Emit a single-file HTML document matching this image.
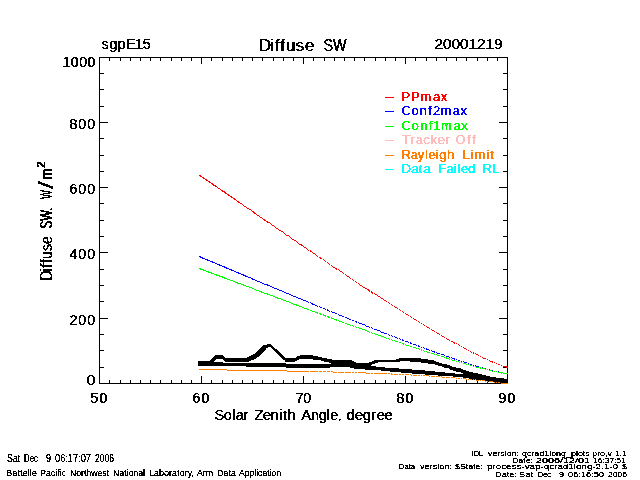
<!DOCTYPE html>
<html><head><meta charset="utf-8"><style>
html,body{margin:0;padding:0;background:#fff;width:640px;height:480px;overflow:hidden}
svg{display:block}
</style></head><body>
<svg width="640" height="480" viewBox="0 0 640 480">
<defs><filter id="crisp" x="-5%" y="-20%" width="110%" height="140%" color-interpolation-filters="sRGB"><feComponentTransfer><feFuncA type="discrete" tableValues="0 0 1"/></feComponentTransfer></filter><filter id="crisp2" x="-5%" y="-20%" width="110%" height="140%" color-interpolation-filters="sRGB"><feComponentTransfer><feFuncA type="discrete" tableValues="0 1 1"/></feComponentTransfer></filter></defs>
<rect width="640" height="480" fill="#fff"/>
<rect x="99" y="57" width="409" height="1" fill="#000"/>
<rect x="99" y="383" width="409" height="1" fill="#000"/>
<rect x="99" y="57" width="1" height="327" fill="#000"/>
<rect x="507" y="57" width="1" height="327" fill="#000"/>
<rect x="99" y="57" width="1" height="7" fill="#000"/>
<rect x="99" y="376" width="1" height="8" fill="#000"/>
<rect x="109" y="57" width="1" height="4" fill="#000"/>
<rect x="109" y="380" width="1" height="4" fill="#000"/>
<rect x="120" y="57" width="1" height="4" fill="#000"/>
<rect x="120" y="380" width="1" height="4" fill="#000"/>
<rect x="130" y="57" width="1" height="4" fill="#000"/>
<rect x="130" y="380" width="1" height="4" fill="#000"/>
<rect x="140" y="57" width="1" height="4" fill="#000"/>
<rect x="140" y="380" width="1" height="4" fill="#000"/>
<rect x="150" y="57" width="1" height="4" fill="#000"/>
<rect x="150" y="380" width="1" height="4" fill="#000"/>
<rect x="160" y="57" width="1" height="4" fill="#000"/>
<rect x="160" y="380" width="1" height="4" fill="#000"/>
<rect x="171" y="57" width="1" height="4" fill="#000"/>
<rect x="171" y="380" width="1" height="4" fill="#000"/>
<rect x="181" y="57" width="1" height="4" fill="#000"/>
<rect x="181" y="380" width="1" height="4" fill="#000"/>
<rect x="191" y="57" width="1" height="4" fill="#000"/>
<rect x="191" y="380" width="1" height="4" fill="#000"/>
<rect x="201" y="57" width="1" height="7" fill="#000"/>
<rect x="201" y="376" width="1" height="8" fill="#000"/>
<rect x="211" y="57" width="1" height="4" fill="#000"/>
<rect x="211" y="380" width="1" height="4" fill="#000"/>
<rect x="222" y="57" width="1" height="4" fill="#000"/>
<rect x="222" y="380" width="1" height="4" fill="#000"/>
<rect x="232" y="57" width="1" height="4" fill="#000"/>
<rect x="232" y="380" width="1" height="4" fill="#000"/>
<rect x="242" y="57" width="1" height="4" fill="#000"/>
<rect x="242" y="380" width="1" height="4" fill="#000"/>
<rect x="252" y="57" width="1" height="4" fill="#000"/>
<rect x="252" y="380" width="1" height="4" fill="#000"/>
<rect x="262" y="57" width="1" height="4" fill="#000"/>
<rect x="262" y="380" width="1" height="4" fill="#000"/>
<rect x="273" y="57" width="1" height="4" fill="#000"/>
<rect x="273" y="380" width="1" height="4" fill="#000"/>
<rect x="283" y="57" width="1" height="4" fill="#000"/>
<rect x="283" y="380" width="1" height="4" fill="#000"/>
<rect x="293" y="57" width="1" height="4" fill="#000"/>
<rect x="293" y="380" width="1" height="4" fill="#000"/>
<rect x="303" y="57" width="1" height="7" fill="#000"/>
<rect x="303" y="376" width="1" height="8" fill="#000"/>
<rect x="313" y="57" width="1" height="4" fill="#000"/>
<rect x="313" y="380" width="1" height="4" fill="#000"/>
<rect x="324" y="57" width="1" height="4" fill="#000"/>
<rect x="324" y="380" width="1" height="4" fill="#000"/>
<rect x="334" y="57" width="1" height="4" fill="#000"/>
<rect x="334" y="380" width="1" height="4" fill="#000"/>
<rect x="344" y="57" width="1" height="4" fill="#000"/>
<rect x="344" y="380" width="1" height="4" fill="#000"/>
<rect x="354" y="57" width="1" height="4" fill="#000"/>
<rect x="354" y="380" width="1" height="4" fill="#000"/>
<rect x="364" y="57" width="1" height="4" fill="#000"/>
<rect x="364" y="380" width="1" height="4" fill="#000"/>
<rect x="375" y="57" width="1" height="4" fill="#000"/>
<rect x="375" y="380" width="1" height="4" fill="#000"/>
<rect x="385" y="57" width="1" height="4" fill="#000"/>
<rect x="385" y="380" width="1" height="4" fill="#000"/>
<rect x="395" y="57" width="1" height="4" fill="#000"/>
<rect x="395" y="380" width="1" height="4" fill="#000"/>
<rect x="405" y="57" width="1" height="7" fill="#000"/>
<rect x="405" y="376" width="1" height="8" fill="#000"/>
<rect x="415" y="57" width="1" height="4" fill="#000"/>
<rect x="415" y="380" width="1" height="4" fill="#000"/>
<rect x="426" y="57" width="1" height="4" fill="#000"/>
<rect x="426" y="380" width="1" height="4" fill="#000"/>
<rect x="436" y="57" width="1" height="4" fill="#000"/>
<rect x="436" y="380" width="1" height="4" fill="#000"/>
<rect x="446" y="57" width="1" height="4" fill="#000"/>
<rect x="446" y="380" width="1" height="4" fill="#000"/>
<rect x="456" y="57" width="1" height="4" fill="#000"/>
<rect x="456" y="380" width="1" height="4" fill="#000"/>
<rect x="466" y="57" width="1" height="4" fill="#000"/>
<rect x="466" y="380" width="1" height="4" fill="#000"/>
<rect x="477" y="57" width="1" height="4" fill="#000"/>
<rect x="477" y="380" width="1" height="4" fill="#000"/>
<rect x="487" y="57" width="1" height="4" fill="#000"/>
<rect x="487" y="380" width="1" height="4" fill="#000"/>
<rect x="497" y="57" width="1" height="4" fill="#000"/>
<rect x="497" y="380" width="1" height="4" fill="#000"/>
<rect x="507" y="57" width="1" height="7" fill="#000"/>
<rect x="507" y="376" width="1" height="8" fill="#000"/>
<rect x="99" y="383" width="9" height="1" fill="#000"/>
<rect x="499" y="383" width="9" height="1" fill="#000"/>
<rect x="99" y="367" width="5" height="1" fill="#000"/>
<rect x="503" y="367" width="5" height="1" fill="#000"/>
<rect x="99" y="350" width="5" height="1" fill="#000"/>
<rect x="503" y="350" width="5" height="1" fill="#000"/>
<rect x="99" y="334" width="5" height="1" fill="#000"/>
<rect x="503" y="334" width="5" height="1" fill="#000"/>
<rect x="99" y="318" width="9" height="1" fill="#000"/>
<rect x="499" y="318" width="9" height="1" fill="#000"/>
<rect x="99" y="301" width="5" height="1" fill="#000"/>
<rect x="503" y="301" width="5" height="1" fill="#000"/>
<rect x="99" y="285" width="5" height="1" fill="#000"/>
<rect x="503" y="285" width="5" height="1" fill="#000"/>
<rect x="99" y="269" width="5" height="1" fill="#000"/>
<rect x="503" y="269" width="5" height="1" fill="#000"/>
<rect x="99" y="252" width="9" height="1" fill="#000"/>
<rect x="499" y="252" width="9" height="1" fill="#000"/>
<rect x="99" y="236" width="5" height="1" fill="#000"/>
<rect x="503" y="236" width="5" height="1" fill="#000"/>
<rect x="99" y="220" width="5" height="1" fill="#000"/>
<rect x="503" y="220" width="5" height="1" fill="#000"/>
<rect x="99" y="203" width="5" height="1" fill="#000"/>
<rect x="503" y="203" width="5" height="1" fill="#000"/>
<rect x="99" y="187" width="9" height="1" fill="#000"/>
<rect x="499" y="187" width="9" height="1" fill="#000"/>
<rect x="99" y="171" width="5" height="1" fill="#000"/>
<rect x="503" y="171" width="5" height="1" fill="#000"/>
<rect x="99" y="155" width="5" height="1" fill="#000"/>
<rect x="503" y="155" width="5" height="1" fill="#000"/>
<rect x="99" y="138" width="5" height="1" fill="#000"/>
<rect x="503" y="138" width="5" height="1" fill="#000"/>
<rect x="99" y="122" width="9" height="1" fill="#000"/>
<rect x="499" y="122" width="9" height="1" fill="#000"/>
<rect x="99" y="106" width="5" height="1" fill="#000"/>
<rect x="503" y="106" width="5" height="1" fill="#000"/>
<rect x="99" y="89" width="5" height="1" fill="#000"/>
<rect x="503" y="89" width="5" height="1" fill="#000"/>
<rect x="99" y="73" width="5" height="1" fill="#000"/>
<rect x="503" y="73" width="5" height="1" fill="#000"/>
<rect x="99" y="57" width="9" height="1" fill="#000"/>
<rect x="499" y="57" width="9" height="1" fill="#000"/>
<path d="M198 361h12v5h-12zM210 360h1v6h-1zM211 359h1v7h-1zM212 358h1v8h-1zM213 357h1v9h-1zM214 356h1v5h-1zM214 362h1v4h-1zM215 355h1v5h-1zM215 362h1v4h-1zM216 355h7v4h-7zM216 362h7v4h-7zM223 356h1v4h-1zM223 363h1v3h-1zM224 357h1v4h-1zM224 363h1v3h-1zM225 358h21v4h-21zM225 363h21v3h-21zM246 358h1v4h-1zM246 363h1v4h-1zM247 357h2v5h-2zM247 363h2v4h-2zM249 356h2v5h-2zM249 363h2v4h-2zM251 355h2v5h-2zM251 363h2v4h-2zM253 354h1v6h-1zM253 363h1v4h-1zM254 354h1v5h-1zM254 363h1v4h-1zM255 353h1v6h-1zM255 363h1v4h-1zM256 352h1v6h-1zM256 363h1v4h-1zM257 351h1v6h-1zM257 363h1v4h-1zM258 350h1v7h-1zM258 363h1v4h-1zM259 349h1v7h-1zM259 363h1v4h-1zM260 348h1v7h-1zM260 363h1v4h-1zM261 347h1v7h-1zM261 363h1v4h-1zM262 346h1v7h-1zM262 363h1v4h-1zM263 345h1v7h-1zM263 363h1v4h-1zM264 345h1v6h-1zM264 363h1v4h-1zM265 345h1v5h-1zM265 363h1v4h-1zM266 345h1v3h-1zM266 363h1v4h-1zM267 344h1v4h-1zM267 363h1v4h-1zM268 344h3v3h-3zM268 363h3v4h-3zM271 345h1v3h-1zM271 363h1v4h-1zM272 346h1v3h-1zM272 363h1v4h-1zM273 347h1v3h-1zM273 363h1v4h-1zM274 348h1v3h-1zM274 363h1v4h-1zM275 349h1v3h-1zM275 363h1v4h-1zM276 349h1v4h-1zM276 363h1v4h-1zM277 350h1v4h-1zM277 363h1v4h-1zM278 351h1v4h-1zM278 363h1v4h-1zM279 352h1v4h-1zM279 363h1v4h-1zM280 353h1v4h-1zM280 363h1v4h-1zM281 354h1v4h-1zM281 363h1v4h-1zM282 355h1v4h-1zM282 363h1v4h-1zM283 356h1v4h-1zM283 363h1v4h-1zM284 357h1v3h-1zM284 363h1v4h-1zM285 358h1v4h-1zM285 363h1v4h-1zM286 358h9v4h-9zM286 364h9v4h-9zM295 358h1v3h-1zM295 364h1v4h-1zM296 357h1v4h-1zM296 364h1v4h-1zM297 356h2v4h-2zM297 364h2v4h-2zM299 356h1v3h-1zM299 364h1v4h-1zM300 355h13v4h-13zM300 364h13v4h-13zM313 356h5v4h-5zM313 364h5v4h-5zM318 357h3v3h-3zM318 364h3v4h-3zM321 357h1v4h-1zM321 364h1v4h-1zM322 358h2v3h-2zM322 364h2v4h-2zM324 358h3v4h-3zM324 364h3v4h-3zM327 359h2v3h-2zM327 364h2v4h-2zM329 359h1v4h-1zM329 364h1v4h-1zM330 359h1v4h-1zM330 364h1v3h-1zM331 359h1v8h-1zM332 360h18v7h-18zM350 360h2v8h-2zM352 361h2v7h-2zM354 362h2v7h-2zM356 363h9v6h-9zM365 363h4v7h-4zM369 362h2v8h-2zM371 362h1v3h-1zM371 366h1v4h-1zM372 361h2v3h-2zM372 366h2v4h-2zM374 360h1v4h-1zM374 366h1v4h-1zM375 360h1v3h-1zM375 366h1v4h-1zM376 360h2v3h-2zM376 367h2v3h-2zM378 360h3v2h-3zM378 367h3v3h-3zM381 360h4v2h-4zM381 367h4v4h-4zM385 360h5v2h-5zM385 368h5v3h-5zM390 360h6v2h-6zM390 368h6v4h-6zM396 359h3v3h-3zM396 368h3v4h-3zM399 358h1v4h-1zM399 369h1v3h-1zM400 358h1v3h-1zM400 369h1v3h-1zM401 358h9v3h-9zM401 369h9v4h-9zM410 358h2v4h-2zM410 369h2v4h-2zM412 358h9v4h-9zM412 370h9v4h-9zM421 359h4v4h-4zM421 370h4v4h-4zM425 359h3v4h-3zM425 371h3v4h-3zM428 360h6v4h-6zM428 371h6v4h-6zM434 361h1v3h-1zM434 371h1v4h-1zM435 361h1v4h-1zM435 372h1v3h-1zM436 362h2v3h-2zM436 372h2v3h-2zM438 362h1v4h-1zM438 372h1v4h-1zM439 363h3v3h-3zM439 372h3v4h-3zM442 364h2v3h-2zM442 372h2v4h-2zM444 364h1v4h-1zM444 372h1v4h-1zM445 364h2v4h-2zM445 373h2v3h-2zM447 365h2v3h-2zM447 373h2v3h-2zM449 365h1v4h-1zM449 373h1v3h-1zM450 366h2v4h-2zM450 373h2v3h-2zM452 367h1v3h-1zM452 373h1v3h-1zM453 367h2v4h-2zM453 373h2v4h-2zM455 367h1v4h-1zM455 374h1v3h-1zM456 368h5v4h-5zM456 374h5v3h-5zM461 369h2v4h-2zM461 374h2v3h-2zM463 370h3v8h-3zM466 371h3v7h-3zM469 372h3v7h-3zM472 372h1v8h-1zM473 373h5v7h-5zM478 374h4v6h-4zM482 375h1v5h-1zM483 375h3v6h-3zM486 376h1v5h-1zM487 376h3v6h-3zM490 377h5v5h-5zM495 377h1v6h-1zM496 378h8v5h-8zM504 379h4v4h-4z" fill="#000"/>
<path d="M199 175h2v1h-2zM200 176h2v1h-2zM202 177h2v1h-2zM203 178h2v1h-2zM205 179h2v1h-2zM206 180h2v1h-2zM208 181h2v1h-2zM209 182h2v1h-2zM211 183h2v1h-2zM212 184h2v1h-2zM213 185h3v1h-3zM215 186h2v1h-2zM217 187h1v1h-1zM218 188h2v1h-2zM220 189h1v1h-1zM221 190h2v1h-2zM222 191h3v1h-3zM224 192h2v1h-2zM225 193h2v1h-2zM227 194h2v1h-2zM228 195h2v1h-2zM230 196h2v1h-2zM231 197h2v1h-2zM233 198h2v1h-2zM234 199h2v1h-2zM236 200h1v1h-1zM237 201h2v1h-2zM238 202h2v1h-2zM240 203h2v1h-2zM242 204h1v1h-1zM243 205h1v1h-1zM244 206h2v1h-2zM246 207h1v1h-1zM247 208h2v1h-2zM249 209h2v1h-2zM251 210h1v1h-1zM252 211h2v1h-2zM253 212h2v1h-2zM254 213h2v1h-2zM256 214h1v1h-1zM257 215h2v1h-2zM259 216h1v1h-1zM260 217h2v1h-2zM262 218h1v1h-1zM263 219h2v1h-2zM264 220h2v1h-2zM266 221h2v1h-2zM267 222h3v1h-3zM270 223h1v1h-1zM271 224h1v1h-1zM272 225h2v1h-2zM274 226h1v1h-1zM275 227h1v1h-1zM276 228h2v1h-2zM278 229h1v1h-1zM279 230h2v1h-2zM281 231h2v1h-2zM283 232h1v1h-1zM284 233h1v1h-1zM285 234h1v1h-1zM286 235h3v1h-3zM289 236h1v1h-1zM290 237h1v1h-1zM291 238h1v1h-1zM292 239h2v1h-2zM294 240h2v1h-2zM296 241h1v1h-1zM297 242h1v1h-1zM298 243h1v1h-1zM299 244h3v1h-3zM301 245h2v1h-2zM303 246h1v1h-1zM304 247h2v1h-2zM306 248h1v1h-1zM307 249h1v1h-1zM308 250h1v1h-1zM310 250h1v1h-1zM310 251h2v1h-2zM312 252h1v1h-1zM313 253h2v1h-2zM315 254h1v1h-1zM316 255h1v1h-1zM317 256h1v1h-1zM319 257h2v1h-2zM320 258h2v1h-2zM323 259h1v1h-1zM324 260h1v1h-1zM325 261h1v1h-1zM327 262h1v1h-1zM328 263h1v1h-1zM329 264h1v1h-1zM331 265h1v1h-1zM332 266h1v1h-1zM333 267h2v1h-2zM335 268h2v1h-2zM336 269h1v1h-1zM338 269h1v1h-1zM339 270h1v1h-1zM340 271h2v1h-2zM342 272h1v1h-1zM343 273h1v1h-1zM345 274h1v1h-1zM346 275h1v1h-1zM347 276h2v1h-2zM349 277h1v1h-1zM350 278h1v1h-1zM352 279h1v1h-1zM353 280h1v1h-1zM355 281h1v1h-1zM356 282h1v1h-1zM358 283h1v1h-1zM359 284h1v1h-1zM360 285h2v1h-2zM362 286h1v1h-1zM363 287h2v1h-2zM365 288h2v1h-2zM367 289h2v1h-2zM368 290h2v1h-2zM369 291h1v1h-1zM371 291h1v1h-1zM371 292h2v1h-2zM372 293h1v1h-1zM374 293h1v1h-1zM375 294h2v1h-2zM377 295h1v1h-1zM378 296h2v1h-2zM380 297h1v1h-1zM381 298h2v1h-2zM383 299h1v1h-1zM384 300h2v1h-2zM386 301h1v1h-1zM388 302h1v1h-1zM389 303h1v1h-1zM391 304h1v1h-1zM392 305h1v1h-1zM394 306h1v1h-1zM395 307h2v1h-2zM397 308h1v1h-1zM399 309h1v1h-1zM400 310h1v1h-1zM402 311h1v1h-1zM403 312h1v1h-1zM405 313h1v1h-1zM406 314h2v1h-2zM408 315h1v1h-1zM410 316h1v1h-1zM411 317h1v1h-1zM413 318h1v1h-1zM414 319h2v1h-2zM416 320h1v1h-1zM418 321h1v1h-1zM419 322h1v1h-1zM421 323h1v1h-1zM423 324h1v1h-1zM424 325h1v1h-1zM426 326h1v1h-1zM427 327h2v1h-2zM429 328h1v1h-1zM431 329h1v1h-1zM432 330h2v1h-2zM434 331h1v1h-1zM436 332h1v1h-1zM437 333h2v1h-2zM439 334h1v1h-1zM441 335h1v1h-1zM442 336h2v1h-2zM444 337h1v1h-1zM446 338h1v1h-1zM447 339h2v1h-2zM449 340h1v1h-1zM451 341h2v1h-2zM453 342h2v1h-2zM454 343h1v1h-1zM456 343h1v1h-1zM458 344h1v1h-1zM459 345h1v1h-1zM461 346h1v1h-1zM463 347h1v1h-1zM464 348h2v1h-2zM466 349h1v1h-1zM468 350h1v1h-1zM470 351h1v1h-1zM471 352h1v1h-1zM473 352h1v1h-1zM473 353h1v1h-1zM475 353h1v1h-1zM476 354h2v1h-2zM478 355h1v1h-1zM480 356h1v1h-1zM482 357h1v1h-1zM483 358h3v1h-3zM487 359h1v1h-1zM489 360h1v1h-1zM490 361h3v1h-3zM492 362h1v1h-1zM494 362h1v1h-1zM496 363h1v1h-1zM498 364h2v1h-2zM501 365h1v1h-1zM503 366h4v1h-4zM506 367h2v1h-2z" fill="#ff0000"/>
<path d="M199 256h2v1h-2zM200 257h3v1h-3zM202 258h3v1h-3zM205 259h3v1h-3zM207 260h3v1h-3zM210 261h3v1h-3zM212 262h3v1h-3zM215 263h2v1h-2zM217 264h3v1h-3zM219 265h3v1h-3zM222 266h3v1h-3zM224 267h3v1h-3zM226 268h3v1h-3zM229 269h3v1h-3zM231 270h3v1h-3zM234 271h2v1h-2zM236 272h3v1h-3zM238 273h3v1h-3zM241 274h3v1h-3zM243 275h3v1h-3zM245 276h3v1h-3zM248 277h3v1h-3zM251 278h2v1h-2zM252 279h3v1h-3zM255 280h2v1h-2zM257 281h3v1h-3zM260 282h2v1h-2zM262 283h2v1h-2zM264 284h4v1h-4zM267 285h3v1h-3zM270 286h2v1h-2zM272 287h2v1h-2zM274 288h3v1h-3zM277 289h2v1h-2zM279 290h3v1h-3zM282 291h2v1h-2zM284 292h2v1h-2zM286 293h3v1h-3zM289 294h2v1h-2zM291 295h2v1h-2zM293 296h3v1h-3zM296 297h2v1h-2zM298 298h3v1h-3zM301 299h2v1h-2zM303 300h3v1h-3zM306 301h2v1h-2zM308 302h1v1h-1zM310 302h1v1h-1zM311 303h2v1h-2zM312 304h3v1h-3zM315 305h2v1h-2zM317 306h1v1h-1zM319 306h1v1h-1zM320 307h2v1h-2zM323 308h2v1h-2zM325 309h1v1h-1zM327 309h1v1h-1zM327 310h2v1h-2zM329 311h1v1h-1zM331 311h1v1h-1zM332 312h3v1h-3zM335 313h2v1h-2zM338 314h1v1h-1zM339 315h3v1h-3zM342 316h2v1h-2zM345 317h2v1h-2zM347 318h2v1h-2zM349 319h2v1h-2zM352 320h2v1h-2zM355 321h2v1h-2zM356 322h1v1h-1zM358 322h1v1h-1zM359 323h3v1h-3zM362 324h3v1h-3zM365 325h1v1h-1zM366 326h3v1h-3zM369 327h1v1h-1zM371 327h1v1h-1zM372 328h1v1h-1zM374 329h3v1h-3zM377 330h3v1h-3zM380 331h1v1h-1zM381 332h3v1h-3zM384 333h3v1h-3zM388 334h1v1h-1zM389 335h1v1h-1zM391 335h1v1h-1zM392 336h1v1h-1zM394 336h1v1h-1zM395 337h2v1h-2zM397 338h1v1h-1zM399 338h1v1h-1zM400 339h1v1h-1zM402 339h1v1h-1zM402 340h2v1h-2zM405 341h3v1h-3zM408 342h1v1h-1zM410 342h1v1h-1zM410 343h2v1h-2zM413 344h3v1h-3zM416 345h1v1h-1zM418 345h1v1h-1zM418 346h2v1h-2zM421 347h1v1h-1zM423 347h1v1h-1zM424 348h1v1h-1zM426 348h1v1h-1zM426 349h3v1h-3zM429 350h1v1h-1zM431 350h1v1h-1zM432 351h3v1h-3zM434 352h1v1h-1zM436 352h1v1h-1zM437 353h3v1h-3zM441 354h3v1h-3zM444 355h1v1h-1zM446 356h3v1h-3zM449 357h1v1h-1zM451 357h1v1h-1zM452 358h3v1h-3zM454 359h1v1h-1zM456 359h1v1h-1zM458 360h2v1h-2zM461 361h1v1h-1zM463 361h1v1h-1zM464 362h3v1h-3zM468 363h1v1h-1zM470 364h2v1h-2zM473 365h1v1h-1zM475 365h1v1h-1zM476 366h3v1h-3zM480 367h1v1h-1zM482 367h1v1h-1zM483 368h3v1h-3zM487 369h1v1h-1zM489 369h1v1h-1zM490 370h3v1h-3zM494 371h1v1h-1zM496 371h1v1h-1zM498 371h1v1h-1zM499 372h1v1h-1zM501 372h1v1h-1zM503 373h1v1h-1zM505 373h2v1h-2z" fill="#0000ff"/>
<path d="M199 268h2v1h-2zM200 269h4v1h-4zM203 270h3v1h-3zM206 271h3v1h-3zM208 272h4v1h-4zM211 273h3v1h-3zM214 274h3v1h-3zM216 275h4v1h-4zM219 276h4v1h-4zM222 277h3v1h-3zM224 278h3v1h-3zM227 279h3v1h-3zM230 280h3v1h-3zM233 281h2v1h-2zM235 282h3v1h-3zM237 283h4v1h-4zM241 284h3v1h-3zM243 285h3v1h-3zM246 286h3v1h-3zM249 287h3v1h-3zM252 288h2v1h-2zM254 289h2v1h-2zM256 290h3v1h-3zM259 291h3v1h-3zM261 292h3v1h-3zM264 293h4v1h-4zM267 294h3v1h-3zM270 295h3v1h-3zM273 296h2v1h-2zM275 297h3v1h-3zM277 298h4v1h-4zM281 299h2v1h-2zM283 300h3v1h-3zM286 301h3v1h-3zM289 302h2v1h-2zM291 303h2v1h-2zM293 304h4v1h-4zM296 305h3v1h-3zM299 306h3v1h-3zM302 307h2v1h-2zM304 308h3v1h-3zM307 309h2v1h-2zM310 310h2v1h-2zM312 311h3v1h-3zM315 312h3v1h-3zM317 313h1v1h-1zM319 313h2v1h-2zM320 314h2v1h-2zM323 314h1v1h-1zM323 315h3v1h-3zM325 316h1v1h-1zM327 316h2v1h-2zM328 317h2v1h-2zM331 317h1v1h-1zM331 318h3v1h-3zM334 319h3v1h-3zM336 320h1v1h-1zM338 320h1v1h-1zM339 321h3v1h-3zM342 322h2v1h-2zM345 323h2v1h-2zM347 324h3v1h-3zM350 325h1v1h-1zM352 325h1v1h-1zM353 326h1v1h-1zM355 326h1v1h-1zM356 327h1v1h-1zM358 327h1v1h-1zM359 328h3v1h-3zM362 329h3v1h-3zM365 330h2v1h-2zM367 331h2v1h-2zM369 332h1v1h-1zM371 332h1v1h-1zM372 333h1v1h-1zM374 333h1v1h-1zM375 334h3v1h-3zM378 335h3v1h-3zM381 336h3v1h-3zM384 337h2v1h-2zM386 338h1v1h-1zM388 338h1v1h-1zM389 339h1v1h-1zM391 339h1v1h-1zM392 340h1v1h-1zM394 340h1v1h-1zM395 341h3v1h-3zM399 342h2v1h-2zM402 343h2v1h-2zM403 344h1v1h-1zM405 344h1v1h-1zM406 345h3v1h-3zM410 346h2v1h-2zM413 347h3v1h-3zM416 348h1v1h-1zM418 348h1v1h-1zM419 349h1v1h-1zM421 349h1v1h-1zM421 350h1v1h-1zM423 350h1v1h-1zM424 351h1v1h-1zM426 351h1v1h-1zM427 352h3v1h-3zM431 353h3v1h-3zM434 354h1v1h-1zM436 354h1v1h-1zM437 355h3v1h-3zM441 356h3v1h-3zM444 357h1v1h-1zM446 357h1v1h-1zM446 358h3v1h-3zM449 359h1v1h-1zM451 359h1v1h-1zM452 360h3v1h-3zM456 361h1v1h-1zM458 361h1v1h-1zM459 362h1v1h-1zM461 362h1v1h-1zM463 363h3v1h-3zM466 364h1v1h-1zM468 364h1v1h-1zM470 365h2v1h-2zM473 366h1v1h-1zM475 366h1v1h-1zM476 367h3v1h-3zM480 367h1v1h-1zM480 368h1v1h-1zM482 368h3v1h-3zM485 369h1v1h-1zM487 369h1v1h-1zM489 370h3v1h-3zM492 371h1v1h-1zM494 371h1v1h-1zM496 371h1v1h-1zM498 372h5v1h-5zM501 373h1v1h-1zM503 373h5v1h-5z" fill="#00ff00"/>
<path d="M199 369h28v1h-28zM227 370h60v1h-60zM287 371h22v1h-22zM310 371h8v1h-8zM319 371h3v1h-3zM323 371h3v1h-3zM327 371h3v1h-3zM331 371h2v1h-2zM333 372h4v1h-4zM338 372h6v1h-6zM345 372h6v1h-6zM352 372h2v1h-2zM355 372h2v1h-2zM358 372h8v1h-8zM366 373h4v1h-4zM371 373h2v1h-2zM374 373h13v1h-13zM388 373h2v1h-2zM391 373h1v1h-1zM391 374h2v1h-2zM394 374h4v1h-4zM399 374h2v1h-2zM402 374h2v1h-2zM405 374h4v1h-4zM410 374h1v1h-1zM411 375h1v1h-1zM413 375h4v1h-4zM418 375h2v1h-2zM421 375h1v1h-1zM423 375h2v1h-2zM426 375h3v1h-3zM429 376h1v1h-1zM431 376h4v1h-4zM436 376h4v1h-4zM441 376h1v1h-1zM442 377h3v1h-3zM446 377h4v1h-4zM451 377h4v1h-4zM456 378h1v1h-1zM458 378h2v1h-2zM461 378h1v1h-1zM463 378h3v1h-3zM466 379h1v1h-1zM468 379h1v1h-1zM470 379h2v1h-2zM473 379h1v1h-1zM475 379h1v1h-1zM476 380h3v1h-3zM480 380h1v1h-1zM482 380h3v1h-3zM485 381h1v1h-1zM487 381h1v1h-1zM489 381h4v1h-4zM494 382h1v1h-1zM496 382h1v1h-1zM498 382h2v1h-2zM501 383h7v1h-7z" fill="#ff7f00"/>
<rect x="385" y="97" width="9" height="1" fill="#ff0000"/>
<rect x="385" y="111" width="9" height="1" fill="#0000ff"/>
<rect x="385" y="126" width="9" height="1" fill="#00ff00"/>
<rect x="385" y="140" width="9" height="1" fill="#ffbcbc"/>
<rect x="385" y="155" width="9" height="1" fill="#ff7f00"/>
<rect x="385" y="169" width="9" height="1" fill="#00ffff"/>
<g class="tx" id="t_site" font-family="Liberation Sans, sans-serif" font-size="14.5" font-weight="normal" fill="#000000" filter="url(#crisp)"><text x="101.0 108.63 117.01 125.39 134.54 142.16" y="48.98" xml:space="preserve">sgpE15</text><text x="102.0 109.63 118.01 126.39 135.54 143.16" y="48.98" xml:space="preserve">sgpE15</text></g>
<g class="tx" id="t_title1" font-family="Liberation Sans, sans-serif" font-size="17.4" font-weight="normal" fill="#000000" filter="url(#crisp)"><text x="258.0 269.76 274.28 279.71 285.13 295.08 304.13" y="50.97" xml:space="preserve">Diffuse</text><text x="259.0 270.76 275.28 280.71 286.13 296.08 305.13" y="50.97" xml:space="preserve">Diffuse</text></g>
<g class="tx" id="t_title2" font-family="Liberation Sans, sans-serif" font-size="17.4" font-weight="normal" fill="#000000" filter="url(#crisp)"><text x="323" y="50.97" textLength="23" lengthAdjust="spacingAndGlyphs" xml:space="preserve">SW</text><text x="324" y="50.97" textLength="23" lengthAdjust="spacingAndGlyphs" xml:space="preserve">SW</text></g>
<g class="tx" id="t_date" font-family="Liberation Sans, sans-serif" font-size="15.5" font-weight="normal" fill="#000000" filter="url(#crisp)"><text x="434.0 442.5 451.01 459.51 468.02 476.52 485.03 493.53" y="48.97" xml:space="preserve">20001219</text><text x="435.0 443.5 452.01 460.51 469.02 477.52 486.03 494.53" y="48.97" xml:space="preserve">20001219</text></g>
<g class="tx" id="y1000" font-family="Liberation Sans, sans-serif" font-size="14.1" font-weight="normal" fill="#000000" filter="url(#crisp)"><text x="62.0 70.32 78.64 86.96" y="66.98" xml:space="preserve">1000</text><text x="63.0 71.32 79.64 87.96" y="66.98" xml:space="preserve">1000</text></g>
<g class="tx" id="y800" font-family="Liberation Sans, sans-serif" font-size="14.1" font-weight="normal" fill="#000000" filter="url(#crisp)"><text x="69.0 77.81 86.63" y="128.98" xml:space="preserve">800</text><text x="70.0 78.81 87.63" y="128.98" xml:space="preserve">800</text></g>
<g class="tx" id="y600" font-family="Liberation Sans, sans-serif" font-size="14.1" font-weight="normal" fill="#000000" filter="url(#crisp)"><text x="69.0 77.81 86.63" y="193.98" xml:space="preserve">600</text><text x="70.0 78.81 87.63" y="193.98" xml:space="preserve">600</text></g>
<g class="tx" id="y400" font-family="Liberation Sans, sans-serif" font-size="14.1" font-weight="normal" fill="#000000" filter="url(#crisp)"><text x="69.0 77.81 86.63" y="258.98" xml:space="preserve">400</text><text x="70.0 78.81 87.63" y="258.98" xml:space="preserve">400</text></g>
<g class="tx" id="y200" font-family="Liberation Sans, sans-serif" font-size="14.1" font-weight="normal" fill="#000000" filter="url(#crisp)"><text x="69.0 77.81 86.63" y="324.98" xml:space="preserve">200</text><text x="70.0 78.81 87.63" y="324.98" xml:space="preserve">200</text></g>
<g class="tx" id="y0" font-family="Liberation Sans, sans-serif" font-size="14.1" font-weight="normal" fill="#000000" filter="url(#crisp)"><text x="86" y="384.98" textLength="9" lengthAdjust="spacingAndGlyphs" xml:space="preserve">0</text><text x="87" y="384.98" textLength="9" lengthAdjust="spacingAndGlyphs" xml:space="preserve">0</text></g>
<g class="tx" id="x50" font-family="Liberation Sans, sans-serif" font-size="14.1" font-weight="normal" fill="#000000" filter="url(#crisp)"><text x="90.0 98.88" y="402.98" xml:space="preserve">50</text><text x="91.0 99.88" y="402.98" xml:space="preserve">50</text></g>
<g class="tx" id="x60" font-family="Liberation Sans, sans-serif" font-size="14.1" font-weight="normal" fill="#000000" filter="url(#crisp)"><text x="192.0 200.88" y="402.98" xml:space="preserve">60</text><text x="193.0 201.88" y="402.98" xml:space="preserve">60</text></g>
<g class="tx" id="x70" font-family="Liberation Sans, sans-serif" font-size="14.1" font-weight="normal" fill="#000000" filter="url(#crisp)"><text x="295.0 302.84" y="402.98" xml:space="preserve">70</text><text x="296.0 303.84" y="402.98" xml:space="preserve">70</text></g>
<g class="tx" id="x80" font-family="Liberation Sans, sans-serif" font-size="14.1" font-weight="normal" fill="#000000" filter="url(#crisp)"><text x="396.0 404.88" y="402.98" xml:space="preserve">80</text><text x="397.0 405.88" y="402.98" xml:space="preserve">80</text></g>
<g class="tx" id="x90" font-family="Liberation Sans, sans-serif" font-size="14.1" font-weight="normal" fill="#000000" filter="url(#crisp)"><text x="498.0 506.88" y="402.98" xml:space="preserve">90</text><text x="499.0 507.88" y="402.98" xml:space="preserve">90</text></g>
<g class="tx" id="xt1" font-family="Liberation Sans, sans-serif" font-size="14.5" font-weight="normal" fill="#000000" filter="url(#crisp)"><text x="214.0 223.16 231.55 235.36 243.0" y="419.98" xml:space="preserve">Solar</text><text x="215.0 224.16 232.55 236.36 244.0" y="419.98" xml:space="preserve">Solar</text></g>
<g class="tx" id="xt2" font-family="Liberation Sans, sans-serif" font-size="14.5" font-weight="normal" fill="#000000" filter="url(#crisp)"><text x="254.0 262.47 270.18 278.65 282.5 287.12" y="419.98" xml:space="preserve">Zenith</text><text x="255.0 263.47 271.18 279.65 283.5 288.12" y="419.98" xml:space="preserve">Zenith</text></g>
<g class="tx" id="xt3" font-family="Liberation Sans, sans-serif" font-size="14.5" font-weight="normal" fill="#000000" filter="url(#crisp)"><text x="301.0 310.38 318.31 326.25 329.85 337.08" y="419.98" xml:space="preserve">Angle,</text><text x="302.0 311.38 319.31 327.25 330.85 338.08" y="419.98" xml:space="preserve">Angle,</text></g>
<g class="tx" id="xt4" font-family="Liberation Sans, sans-serif" font-size="14.5" font-weight="normal" fill="#000000" filter="url(#crisp)"><text x="346.0 354.51 362.26 370.77 376.19 383.94" y="419.98" xml:space="preserve">degree</text><text x="347.0 355.51 363.26 371.77 377.19 384.94" y="419.98" xml:space="preserve">degree</text></g>
<g class="tx" id="l1" font-family="Liberation Sans, sans-serif" font-size="13" font-weight="normal" fill="#ff0000" filter="url(#crisp)"><text x="401.0 410.44 419.87 432.45 440.32" y="100.94" xml:space="preserve">PPmax</text><text x="402.0 411.44 420.87 433.45 441.32" y="100.94" xml:space="preserve">PPmax</text></g>
<g class="tx" id="l2" font-family="Liberation Sans, sans-serif" font-size="13" font-weight="normal" fill="#0000ff" filter="url(#crisp)"><text x="401.0 410.95 419.37 427.79 432.38 440.04 452.29 459.96" y="114.94" xml:space="preserve">Conf2max</text><text x="402.0 411.95 420.37 428.79 433.38 441.04 453.29 460.96" y="114.94" xml:space="preserve">Conf2max</text></g>
<g class="tx" id="l3" font-family="Liberation Sans, sans-serif" font-size="13" font-weight="normal" fill="#00ff00" filter="url(#crisp)"><text x="401.0 411.09 419.63 428.17 432.82 440.59 453.02 460.79" y="129.94" xml:space="preserve">Conf1max</text><text x="402.0 412.09 420.63 429.17 433.82 441.59 454.02 461.79" y="129.94" xml:space="preserve">Conf1max</text></g>
<g class="tx" id="l4a" font-family="Liberation Sans, sans-serif" font-size="13" font-weight="normal" fill="#ffbcbc" filter="url(#crisp)"><text x="402.0 410.1 415.25 422.63 430.0 437.37 444.74" y="143.94" xml:space="preserve">Tracker</text><text x="403.0 411.1 416.25 423.63 431.0 438.37 445.74" y="143.94" xml:space="preserve">Tracker</text></g>
<g class="tx" id="l4b" font-family="Liberation Sans, sans-serif" font-size="13" font-weight="normal" fill="#ffbcbc" filter="url(#crisp)"><text x="455.0 466.74 471.77" y="143.94" xml:space="preserve">Off</text><text x="456.0 467.74 472.77" y="143.94" xml:space="preserve">Off</text></g>
<g class="tx" id="l5a" font-family="Liberation Sans, sans-serif" font-size="13" font-weight="normal" fill="#ff7f00" filter="url(#crisp)"><text x="401.0 410.23 417.33 424.44 427.98 435.09 438.64 446.44" y="158.94" xml:space="preserve">Rayleigh</text><text x="402.0 411.23 418.33 425.44 428.98 436.09 439.64 447.44" y="158.94" xml:space="preserve">Rayleigh</text></g>
<g class="tx" id="l5b" font-family="Liberation Sans, sans-serif" font-size="13" font-weight="normal" fill="#ff7f00" filter="url(#crisp)"><text x="462.0 470.19 473.91 485.83 489.55" y="158.94" xml:space="preserve">Limit</text><text x="463.0 471.19 474.91 486.83 490.55" y="158.94" xml:space="preserve">Limit</text></g>
<g class="tx" id="l6a" font-family="Liberation Sans, sans-serif" font-size="13" font-weight="normal" fill="#00ffff" filter="url(#crisp)"><text x="401.0 410.7 418.17 422.64" y="172.94" xml:space="preserve">Data</text><text x="402.0 411.7 419.17 423.64" y="172.94" xml:space="preserve">Data</text></g>
<g class="tx" id="l6b" font-family="Liberation Sans, sans-serif" font-size="13" font-weight="normal" fill="#00ffff" filter="url(#crisp)"><text x="438.0 445.94 453.17 456.78 460.39 467.62" y="172.94" xml:space="preserve">Failed</text><text x="439.0 446.94 454.17 457.78 461.39 468.62" y="172.94" xml:space="preserve">Failed</text></g>
<g class="tx" id="l6c" font-family="Liberation Sans, sans-serif" font-size="13" font-weight="normal" fill="#00ffff" filter="url(#crisp)"><text x="482.0 491.39" y="172.94" xml:space="preserve">RL</text><text x="483.0 492.39" y="172.94" xml:space="preserve">RL</text></g>
<g class="tx" id="yt1" font-family="Liberation Sans, sans-serif" font-size="14" font-weight="normal" fill="#000000" transform="translate(52.01,281) rotate(-90) scale(1,1.15)" filter="url(#crisp)"><text x="0.0 9.32 12.9 17.2 21.5 29.38 36.56" y="0" xml:space="preserve">Diffuse</text><text x="1.0 10.32 13.9 18.2 22.5 30.38 37.56" y="0" xml:space="preserve">Diffuse</text></g>
<g class="tx" id="yt2" font-family="Liberation Sans, sans-serif" font-size="16" font-weight="normal" fill="#000000" transform="translate(52.01,229) rotate(-90)" filter="url(#crisp)"><text x="0" y="0" textLength="21" lengthAdjust="spacingAndGlyphs" xml:space="preserve">SW,</text><text x="1" y="0" textLength="21" lengthAdjust="spacingAndGlyphs" xml:space="preserve">SW,</text></g>
<g class="tx" id="ysup" font-family="Liberation Sans, sans-serif" font-size="10" font-weight="normal" fill="#000000" transform="translate(44.88,168) rotate(-90)" filter="url(#crisp2)"><text x="0" y="0" xml:space="preserve">2</text><text x="1" y="0" xml:space="preserve">2</text></g>
<g class="tx" id="yt3" font-family="Liberation Sans, sans-serif" font-size="16" font-weight="normal" fill="#000000" transform="translate(52.01,199) rotate(-90)" filter="url(#crisp2)"><text x="0" y="0" textLength="9" lengthAdjust="spacingAndGlyphs" xml:space="preserve">W</text></g>
<g class="tx" id="yt4" font-family="Liberation Sans, sans-serif" font-size="20" font-weight="normal" fill="#000000" transform="translate(53.01,189) rotate(-90)" filter="url(#crisp2)"><text x="0" y="0" textLength="8" lengthAdjust="spacingAndGlyphs" xml:space="preserve">/</text></g>
<g class="tx" id="yt5" font-family="Liberation Sans, sans-serif" font-size="16" font-weight="normal" fill="#000000" transform="translate(52.01,180) rotate(-90)" filter="url(#crisp2)"><text x="0" y="0" textLength="11" lengthAdjust="spacingAndGlyphs" xml:space="preserve">m</text><text x="1" y="0" textLength="11" lengthAdjust="spacingAndGlyphs" xml:space="preserve">m</text></g>
<g class="tx" id="f1_0" font-family="Liberation Sans, sans-serif" font-size="10" font-weight="normal" fill="#000000" filter="url(#crisp2)"><text x="7" y="461.88" textLength="13" lengthAdjust="spacingAndGlyphs" xml:space="preserve">Sat</text></g>
<g class="tx" id="f1_1" font-family="Liberation Sans, sans-serif" font-size="10" font-weight="normal" fill="#000000" filter="url(#crisp2)"><text x="24" y="461.88" textLength="14" lengthAdjust="spacingAndGlyphs" xml:space="preserve">Dec</text></g>
<g class="tx" id="f1_2" font-family="Liberation Sans, sans-serif" font-size="10" font-weight="normal" fill="#000000" filter="url(#crisp2)"><text x="46" y="461.88" textLength="5" lengthAdjust="spacingAndGlyphs" xml:space="preserve">9</text></g>
<g class="tx" id="f1_3" font-family="Liberation Sans, sans-serif" font-size="10" font-weight="normal" fill="#000000" filter="url(#crisp2)"><text x="55" y="461.88" textLength="36" lengthAdjust="spacingAndGlyphs" xml:space="preserve">06:17:07</text></g>
<g class="tx" id="f1_4" font-family="Liberation Sans, sans-serif" font-size="10" font-weight="normal" fill="#000000" filter="url(#crisp2)"><text x="95" y="461.88" textLength="19" lengthAdjust="spacingAndGlyphs" xml:space="preserve">2006</text></g>
<g class="tx" id="f2_0" font-family="Liberation Sans, sans-serif" font-size="9" font-weight="normal" fill="#000000" filter="url(#crisp2)"><text x="6" y="476.19" textLength="31" lengthAdjust="spacingAndGlyphs" xml:space="preserve">Battelle</text></g>
<g class="tx" id="f2_1" font-family="Liberation Sans, sans-serif" font-size="9" font-weight="normal" fill="#000000" filter="url(#crisp2)"><text x="40" y="476.19" textLength="26" lengthAdjust="spacingAndGlyphs" xml:space="preserve">Pacific</text></g>
<g class="tx" id="f2_2" font-family="Liberation Sans, sans-serif" font-size="9" font-weight="normal" fill="#000000" filter="url(#crisp2)"><text x="70" y="476.19" textLength="39" lengthAdjust="spacingAndGlyphs" xml:space="preserve">Northwest</text></g>
<g class="tx" id="f2_3" font-family="Liberation Sans, sans-serif" font-size="9" font-weight="normal" fill="#000000" filter="url(#crisp2)"><text x="113" y="476.19" textLength="32" lengthAdjust="spacingAndGlyphs" xml:space="preserve">National</text></g>
<g class="tx" id="f2_4" font-family="Liberation Sans, sans-serif" font-size="9" font-weight="normal" fill="#000000" filter="url(#crisp2)"><text x="149" y="476.19" textLength="45" lengthAdjust="spacingAndGlyphs" xml:space="preserve">Laboratory,</text></g>
<g class="tx" id="f2_5" font-family="Liberation Sans, sans-serif" font-size="9" font-weight="normal" fill="#000000" filter="url(#crisp2)"><text x="197" y="476.19" textLength="16" lengthAdjust="spacingAndGlyphs" xml:space="preserve">Arm</text></g>
<g class="tx" id="f2_6" font-family="Liberation Sans, sans-serif" font-size="9" font-weight="normal" fill="#000000" filter="url(#crisp2)"><text x="217" y="476.19" textLength="19" lengthAdjust="spacingAndGlyphs" xml:space="preserve">Data</text></g>
<g class="tx" id="f2_7" font-family="Liberation Sans, sans-serif" font-size="9" font-weight="normal" fill="#000000" filter="url(#crisp2)"><text x="239" y="476.19" textLength="42" lengthAdjust="spacingAndGlyphs" xml:space="preserve">Application</text></g>
<g class="tx" id="r1_0" font-family="Liberation Sans, sans-serif" font-size="8" font-weight="normal" fill="#000000" filter="url(#crisp2)"><text x="472" y="455.5" textLength="11" lengthAdjust="spacingAndGlyphs" xml:space="preserve">IDL</text></g>
<g class="tx" id="r1_1" font-family="Liberation Sans, sans-serif" font-size="8" font-weight="normal" fill="#000000" filter="url(#crisp2)"><text x="488" y="455.5" textLength="31" lengthAdjust="spacingAndGlyphs" xml:space="preserve">version:</text></g>
<g class="tx" id="r1_2" font-family="Liberation Sans, sans-serif" font-size="8" font-weight="normal" fill="#000000" filter="url(#crisp2)"><text x="522" y="455.5" textLength="90" lengthAdjust="spacingAndGlyphs" xml:space="preserve">qcrad1long_plots.pro,v</text></g>
<g class="tx" id="r1_3" font-family="Liberation Sans, sans-serif" font-size="8" font-weight="normal" fill="#000000" filter="url(#crisp2)"><text x="615" y="455.5" textLength="12" lengthAdjust="spacingAndGlyphs" xml:space="preserve">1.1</text></g>
<g class="tx" id="r2_0" font-family="Liberation Sans, sans-serif" font-size="8" font-weight="normal" fill="#000000" filter="url(#crisp2)"><text x="512" y="462.5" textLength="21" lengthAdjust="spacingAndGlyphs" xml:space="preserve">Date:</text></g>
<g class="tx" id="r2_1" font-family="Liberation Sans, sans-serif" font-size="8" font-weight="normal" fill="#000000" filter="url(#crisp2)"><text x="536" y="462.5" textLength="54" lengthAdjust="spacingAndGlyphs" xml:space="preserve">2006/12/01</text></g>
<g class="tx" id="r2_2" font-family="Liberation Sans, sans-serif" font-size="8" font-weight="normal" fill="#000000" filter="url(#crisp2)"><text x="593" y="462.5" textLength="33" lengthAdjust="spacingAndGlyphs" xml:space="preserve">16:37:51</text></g>
<g class="tx" id="r3_0" font-family="Liberation Sans, sans-serif" font-size="8" font-weight="normal" fill="#000000" filter="url(#crisp2)"><text x="399" y="468.5" textLength="16" lengthAdjust="spacingAndGlyphs" xml:space="preserve">Data</text></g>
<g class="tx" id="r3_1" font-family="Liberation Sans, sans-serif" font-size="8" font-weight="normal" fill="#000000" filter="url(#crisp2)"><text x="420" y="468.5" textLength="32" lengthAdjust="spacingAndGlyphs" xml:space="preserve">version:</text></g>
<g class="tx" id="r3_2" font-family="Liberation Sans, sans-serif" font-size="8" font-weight="normal" fill="#000000" filter="url(#crisp2)"><text x="455" y="468.5" textLength="28" lengthAdjust="spacingAndGlyphs" xml:space="preserve">$State:</text></g>
<g class="tx" id="r3_3" font-family="Liberation Sans, sans-serif" font-size="8" font-weight="normal" fill="#000000" filter="url(#crisp2)"><text x="487" y="468.5" textLength="131" lengthAdjust="spacingAndGlyphs" xml:space="preserve">process-vap-qcrad1long-2.1-0</text></g>
<g class="tx" id="r3_4" font-family="Liberation Sans, sans-serif" font-size="8" font-weight="normal" fill="#000000" filter="url(#crisp2)"><text x="622" y="468.5" textLength="5" lengthAdjust="spacingAndGlyphs" xml:space="preserve">$</text></g>
<g class="tx" id="r4_0" font-family="Liberation Sans, sans-serif" font-size="8" font-weight="normal" fill="#000000" filter="url(#crisp2)"><text x="495" y="476.5" textLength="22" lengthAdjust="spacingAndGlyphs" xml:space="preserve">Date:</text></g>
<g class="tx" id="r4_1" font-family="Liberation Sans, sans-serif" font-size="8" font-weight="normal" fill="#000000" filter="url(#crisp2)"><text x="519" y="476.5" textLength="14" lengthAdjust="spacingAndGlyphs" xml:space="preserve">Sat</text></g>
<g class="tx" id="r4_2" font-family="Liberation Sans, sans-serif" font-size="8" font-weight="normal" fill="#000000" filter="url(#crisp2)"><text x="538" y="476.5" textLength="13" lengthAdjust="spacingAndGlyphs" xml:space="preserve">Dec</text></g>
<g class="tx" id="r4_3" font-family="Liberation Sans, sans-serif" font-size="8" font-weight="normal" fill="#000000" filter="url(#crisp2)"><text x="559" y="476.5" textLength="5" lengthAdjust="spacingAndGlyphs" xml:space="preserve">9</text></g>
<g class="tx" id="r4_4" font-family="Liberation Sans, sans-serif" font-size="8" font-weight="normal" fill="#000000" filter="url(#crisp2)"><text x="568" y="476.5" textLength="36" lengthAdjust="spacingAndGlyphs" xml:space="preserve">06:16:50</text></g>
<g class="tx" id="r4_5" font-family="Liberation Sans, sans-serif" font-size="8" font-weight="normal" fill="#000000" filter="url(#crisp2)"><text x="608" y="476.5" textLength="19" lengthAdjust="spacingAndGlyphs" xml:space="preserve">2006</text></g>
</svg>
</body></html>
